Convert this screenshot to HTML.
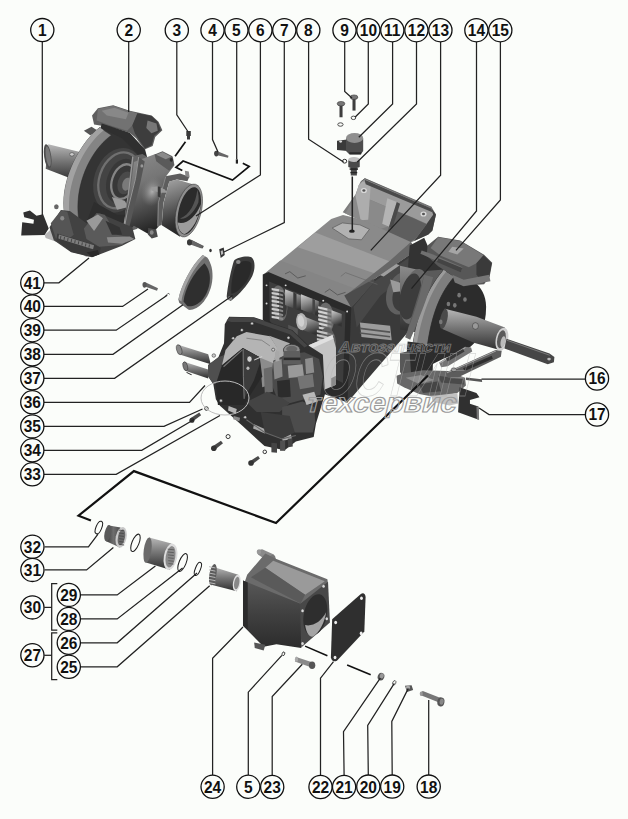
<!DOCTYPE html><html><head><meta charset="utf-8"><title>diagram</title>
<style>html,body{margin:0;padding:0;background:#fbfdfa}body{width:628px;height:819px;overflow:hidden}svg{display:block}text{font-family:"Liberation Sans",sans-serif;font-weight:bold}</style></head><body>
<svg width="628" height="819" viewBox="0 0 628 819">
<rect width="628" height="819" fill="#fbfdfa"/>
<defs>
<linearGradient id="gv" x1="0" y1="0" x2="0" y2="1"><stop offset="0" stop-color="#b8b8b8"/><stop offset="0.45" stop-color="#777"/><stop offset="1" stop-color="#2e2e2e"/></linearGradient>
<linearGradient id="gv2" x1="0" y1="0" x2="0" y2="1"><stop offset="0" stop-color="#8c8c8c"/><stop offset="0.5" stop-color="#5e5e5e"/><stop offset="1" stop-color="#303030"/></linearGradient>
<linearGradient id="gh" x1="0" y1="0" x2="1" y2="0"><stop offset="0" stop-color="#3a3a3a"/><stop offset="0.5" stop-color="#6e6e6e"/><stop offset="1" stop-color="#4a4a4a"/></linearGradient>
<linearGradient id="gd" x1="0" y1="0" x2="1" y2="1"><stop offset="0" stop-color="#a0a0a0"/><stop offset="0.5" stop-color="#6a6a6a"/><stop offset="1" stop-color="#303030"/></linearGradient>
<linearGradient id="gtop" x1="0" y1="0" x2="1" y2="1"><stop offset="0" stop-color="#8d8d8d"/><stop offset="0.5" stop-color="#a2a2a2"/><stop offset="1" stop-color="#7a7a7a"/></linearGradient>
<radialGradient id="gr" cx="0.4" cy="0.4" r="0.7"><stop offset="0" stop-color="#999"/><stop offset="1" stop-color="#333"/></radialGradient>
<linearGradient id="gbody" x1="0" y1="0" x2="0.25" y2="1"><stop offset="0" stop-color="#8c8c8c"/><stop offset="0.4" stop-color="#767676"/><stop offset="0.75" stop-color="#484848"/><stop offset="1" stop-color="#262626"/></linearGradient>
<radialGradient id="ghl" cx="0.5" cy="0.5" r="0.5"><stop offset="0" stop-color="#b4b4b4" stop-opacity="0.95"/><stop offset="1" stop-color="#808080" stop-opacity="0"/></radialGradient>
<linearGradient id="gpipe" x1="0.3" y1="0" x2="0.5" y2="1"><stop offset="0" stop-color="#a0a0a0"/><stop offset="0.35" stop-color="#6e6e6e"/><stop offset="0.75" stop-color="#333"/><stop offset="1" stop-color="#222"/></linearGradient>
<linearGradient id="gface" x1="0" y1="0" x2="0" y2="1"><stop offset="0" stop-color="#585858"/><stop offset="0.5" stop-color="#404040"/><stop offset="1" stop-color="#2c2c2c"/></linearGradient>
<linearGradient id="gshaft" x1="0" y1="0" x2="0.3" y2="1"><stop offset="0" stop-color="#cfcfcf"/><stop offset="0.45" stop-color="#8c8c8c"/><stop offset="1" stop-color="#333"/></linearGradient>
</defs>
<g transform="translate(10,95) scale(0.25478)"><polygon points="150,193 275,224 265,338 140,289" fill="url(#gv)" /><ellipse cx="148" cy="241" rx="14" ry="48" fill="#4e4e4e" transform="rotate(-8 148 241)" /><ellipse cx="150" cy="241" rx="9" ry="40" fill="#777" transform="rotate(-8 150 241)" /><ellipse cx="243" cy="233" rx="9" ry="7" fill="#ccc" stroke="#333" stroke-width="2"/><polygon points="322,80 345,52 405,40 470,62 556,80 583,105 598,138 570,165 560,200 528,214 495,170 470,148 400,128 330,116" fill="#5e5e5e" /><polygon points="345,55 405,42 470,64 500,72 480,120 460,140 400,122 340,100" fill="#727272" /><polygon points="360,62 410,50 465,70 455,95 380,80" fill="#888" /><polygon points="500,72 556,82 580,106 592,138 566,160 556,196 530,210 505,175 490,150 480,120" fill="#3d3d3d" /><polygon points="540,100 575,112 580,140 555,150 535,130" fill="#777" /><polygon points="290,140 320,125 345,140 315,158" fill="#555" /><polygon points="360,112 470,148 530,214 540,250 480,250 400,210 350,150" fill="#2f2f2f" /><path d="M352,128 C300,170 215,300 215,420 C215,480 225,520 245,565 L330,565 L470,470 L520,250 L440,170 Z" fill="#343434" /><path d="M352,128 C292,172 211,300 211,424 C211,480 222,525 243,565 L292,565 C272,520 264,470 267,420 C274,300 338,200 398,158 Z" fill="#848484" stroke="#2a2a2a" stroke-width="2"/><path d="M352,128 C292,172 211,300 211,424 C211,480 222,525 243,565 L256,565 C238,520 230,470 232,422 C236,310 300,190 368,138 Z" fill="#a2a2a2" /><ellipse cx="425" cy="335" rx="95" ry="130" fill="#444" transform="rotate(18 425 335)" /><ellipse cx="430" cy="335" rx="80" ry="112" fill="none" transform="rotate(18 430 335)" stroke="#707070" stroke-width="9"/><ellipse cx="440" cy="338" rx="60" ry="90" fill="#383838" transform="rotate(18 440 338)" /><ellipse cx="446" cy="340" rx="46" ry="70" fill="none" transform="rotate(18 446 340)" stroke="#858585" stroke-width="9"/><ellipse cx="453" cy="345" rx="30" ry="46" fill="#4a4a4a" transform="rotate(18 453 345)" /><ellipse cx="458" cy="350" rx="17" ry="26" fill="#7a7a7a" transform="rotate(18 458 350)" /><polygon points="330,420 420,470 470,470 440,545 330,565 300,500" fill="#2e2e2e" /><polygon points="400,400 450,415 465,440 420,450" fill="#9a9a9a" /><polygon points="480,240 520,232 562,258 500,525 440,545 452,470" fill="#646464" /><polyline points="482,242 455,470 442,543" fill="none" stroke="#9a9a9a" stroke-width="5" /></g><g transform="translate(110,150) scale(0.15924)"><polygon points="150,75 285,25 395,45 405,95 352,165 310,330 305,480 255,535 150,475 105,525 95,400 135,200" fill="url(#gbody)" /><ellipse cx="265" cy="260" rx="70" ry="95" fill="url(#ghl)" transform="rotate(15 265 260)" /><polygon points="280,28 330,8 392,40 402,92 372,130 330,100 290,70" fill="#5a5a5a" /><polygon points="290,30 330,12 385,42 350,58" fill="#8a8a8a" /><ellipse cx="385" cy="62" rx="10" ry="12" fill="#2a2a2a" /><polygon points="178,42 218,72 192,200 142,400 112,525 84,512 108,380 158,180" fill="#565656" /><polyline points="180,44 160,180 110,380 86,512" fill="none" stroke="#a5a5a5" stroke-width="5" /><ellipse cx="200" cy="100" rx="9" ry="10" fill="#999" /><polygon points="348,165 440,148 498,168 486,196 420,185 372,200 335,335 325,470 298,482 300,330" fill="#5d5d5d" /><polyline points="350,167 304,330 300,480" fill="none" stroke="#a0a0a0" stroke-width="4" /><polygon points="470,130 495,135 500,172 474,165" fill="#8a8a8a" /><polygon points="258,235 300,228 345,248 358,268 318,268 262,255" fill="#9a9a9a" /><polygon points="300,228 318,232 318,300 300,292" fill="#3a3a3a" /><path d="M372,198 L420,185 L520,215 C470,260 420,420 440,545 L325,472 L336,335 Z" fill="url(#gpipe)" /><ellipse cx="495" cy="380" rx="78" ry="170" fill="#8f8f8f" transform="rotate(14 495 380)" stroke="#333" stroke-width="3"/><ellipse cx="498" cy="382" rx="66" ry="152" fill="#2b2b2b" transform="rotate(14 498 382)" /><path d="M425,455 C430,500 445,525 470,528 C520,500 560,430 570,340 C540,420 480,470 425,455 Z" fill="#9c9c9c" /><path d="M440,430 C470,440 520,410 555,330 C560,300 555,270 548,250 C540,330 500,410 440,430 Z" fill="#555" /><polygon points="240,490 290,500 300,545 262,555 238,530" fill="#4a4a4a" /><ellipse cx="262" cy="518" rx="12" ry="14" fill="#888" /></g><g transform="translate(10,180) scale(0.25478)"><polygon points="52,128 78,120 104,140 130,134 152,190 136,216 44,218 48,166 92,172 94,156 56,146" fill="#303030" /><polygon points="136,216 160,194 240,236 330,292 300,302 236,262 140,228" fill="#b5b5b5" /><polygon points="155,185 200,118 235,122 300,170 350,130 480,185 492,232 440,258 356,290 322,303 240,284 172,236" fill="#424242" /><polygon points="160,170 200,120 225,125 250,215 230,232 180,230" fill="#555" /><ellipse cx="182" cy="105" rx="9" ry="10" fill="#666" /><ellipse cx="205" cy="150" rx="8" ry="9" fill="#8a8a8a" /><polygon points="290,190 340,130 372,136 420,215 470,225 440,255 350,262 300,232" fill="#5a5a5a" /><polygon points="300,160 345,135 365,150 330,200" fill="#999" /><polygon points="375,160 430,185 440,215 400,215" fill="#333" /><polygon points="380,225 470,222 488,232 440,250 385,245" fill="#8a8a8a" /><polygon points="186,210 330,254 356,266 352,290 322,302 240,282 182,236" fill="#3a3a3a" /><polygon points="192,214 330,256 326,272 190,230" fill="#7d7d7d" /><polyline points="200,219 198,231" fill="none" stroke="#333" stroke-width="3" /><polyline points="214,223.3 212,235.3" fill="none" stroke="#333" stroke-width="3" /><polyline points="228,227.6 226,239.6" fill="none" stroke="#333" stroke-width="3" /><polyline points="242,231.9 240,243.9" fill="none" stroke="#333" stroke-width="3" /><polyline points="256,236.2 254,248.2" fill="none" stroke="#333" stroke-width="3" /><polyline points="270,240.5 268,252.5" fill="none" stroke="#333" stroke-width="3" /><polyline points="284,244.8 282,256.8" fill="none" stroke="#333" stroke-width="3" /><polyline points="298,249.1 296,261.1" fill="none" stroke="#333" stroke-width="3" /><polyline points="312,253.4 310,265.4" fill="none" stroke="#333" stroke-width="3" /><polygon points="300,285 345,275 350,292 322,302" fill="#2a2a2a" /></g><g transform="translate(330,160) scale(0.25478)"><polygon points="50,205 100,135 118,88 136,72 400,186 416,214 402,275 386,292 300,332 200,272 120,236" fill="#7d7d7d" /><polygon points="112,100 136,76 398,190 405,215 380,250 300,215 250,195 120,140" fill="#9b9b9b" /><polygon points="398,190 416,214 402,278 386,292 330,318 380,250 405,215" fill="#3f3f3f" /><polygon points="120,140 250,195 225,262 200,270 120,236 60,210 100,140" fill="#8a8a8a" /><polygon points="255,198 320,225 380,252 335,310 300,330 225,285 235,250" fill="#5e5e5e" /><polygon points="112,100 128,84 160,98 150,235 120,236 100,140" fill="#adadad" /><polygon points="136,78 398,190 402,205 140,95" fill="#4a4a4a" /><polygon points="225,150 262,165 232,262 205,250" fill="#b4b4b4" /><polygon points="262,165 275,172 245,268 232,262" fill="#4a4a4a" /><ellipse cx="133" cy="120" rx="12" ry="10" fill="#d8d8d8" /><ellipse cx="133" cy="120" rx="6" ry="5" fill="#555" /><ellipse cx="367" cy="212" rx="12" ry="10" fill="#d8d8d8" /><ellipse cx="367" cy="212" rx="6" ry="5" fill="#555" /><polyline points="120,86 137,73 400,186" fill="none" stroke="#555" stroke-width="3" /></g><g transform="translate(250,200) scale(0.31847)"><polygon points="315,338 390,248 520,158 565,200 570,330 470,445 306,636 298,634" fill="#3a3a3a" /><polygon points="325,335 392,255 515,170 500,230 410,300 335,400" fill="#474747" /><ellipse cx="478" cy="292" rx="48" ry="70" fill="#606060" transform="rotate(20 478 292)" /><ellipse cx="486" cy="296" rx="36" ry="56" fill="#3c3c3c" transform="rotate(20 486 296)" /><polygon points="440,250 480,262 490,285 450,290" fill="#9a9a9a" /><polygon points="345,385 440,395 445,440 350,430" fill="#9c9c9c" /><polygon points="345,400 440,412 440,418 345,406" fill="#555" /><polygon points="345,415 440,427 440,432 345,420" fill="#555" /><polygon points="45,232 255,60 292,47 345,60 505,132 522,158 388,250 316,338" fill="#8a8a8a" /><polygon points="150,148 205,102 470,205 420,240" fill="#9e9e9e" /><polygon points="45,232 95,190 360,290 316,338" fill="#858585" /><polygon points="300,300 388,250 522,158 505,132 440,190" fill="#676767" /><polygon points="296,300 388,248 392,256 318,338" fill="#4c4c4c" /><polyline points="110,232 125,225 150,245 175,238" fill="none" stroke="#444" stroke-width="2" /><polyline points="235,290 250,280 275,298 300,290" fill="none" stroke="#444" stroke-width="2" /><polyline points="285,240 300,228 400,265" fill="none" stroke="#666" stroke-width="2" /><polygon points="258,88 290,72 345,78 375,92 350,125 310,122" fill="#b2b2b2" stroke="#555" stroke-width="2"/><ellipse cx="320" cy="98" rx="9" ry="5" fill="#222" /><polygon points="40,234 58,226 318,336 306,636 224,606 150,560 40,375" fill="#2a2a2a" /><polygon points="60,256 300,352 292,575 200,528 62,380" fill="#3d3d3d" /><ellipse cx="93" cy="324" rx="24" ry="56" fill="#6a6a6a" transform="rotate(-6 93 324)" /><ellipse cx="100" cy="326" rx="15" ry="42" fill="#3a3a3a" transform="rotate(-6 100 326)" /><polygon points="68,276 92,280 92,287 68,283" fill="#cdcdcd" /><polygon points="92,280 104,284 104,290 92,287" fill="#8a8a8a" /><polygon points="68,288.5 92,292.5 92,299.5 68,295.5" fill="#cdcdcd" /><polygon points="92,292.5 104,296.5 104,302.5 92,299.5" fill="#8a8a8a" /><polygon points="68,301 92,305 92,312 68,308" fill="#cdcdcd" /><polygon points="92,305 104,309 104,315 92,312" fill="#8a8a8a" /><polygon points="68,313.5 92,317.5 92,324.5 68,320.5" fill="#cdcdcd" /><polygon points="92,317.5 104,321.5 104,327.5 92,324.5" fill="#8a8a8a" /><polygon points="68,326 92,330 92,337 68,333" fill="#cdcdcd" /><polygon points="92,330 104,334 104,340 92,337" fill="#8a8a8a" /><polygon points="68,338.5 92,342.5 92,349.5 68,345.5" fill="#cdcdcd" /><polygon points="92,342.5 104,346.5 104,352.5 92,349.5" fill="#8a8a8a" /><polygon points="68,351 92,355 92,362 68,358" fill="#cdcdcd" /><polygon points="92,355 104,359 104,365 92,362" fill="#8a8a8a" /><polygon points="68,363.5 92,367.5 92,374.5 68,370.5" fill="#cdcdcd" /><polygon points="92,367.5 104,371.5 104,377.5 92,374.5" fill="#8a8a8a" /><polygon points="110,280 166,302 166,352 110,330" fill="url(#gshaft)" /><polygon points="136,290 146,294 146,344 136,340" fill="#3a3a3a" /><polygon points="160,296 216,318 216,366 160,344" fill="url(#gshaft)" /><polygon points="196,310 204,313 204,361 196,358" fill="#444" /><ellipse cx="240" cy="368" rx="24" ry="46" fill="#6a6a6a" transform="rotate(-6 240 368)" /><polygon points="214,334 244,341 244,348 214,341" fill="#d2d2d2" /><polygon points="244,341 256,345 256,351 244,348" fill="#8a8a8a" /><polygon points="214,346.5 244,353.5 244,360.5 214,353.5" fill="#d2d2d2" /><polygon points="244,353.5 256,357.5 256,363.5 244,360.5" fill="#8a8a8a" /><polygon points="214,359 244,366 244,373 214,366" fill="#d2d2d2" /><polygon points="244,366 256,370 256,376 244,373" fill="#8a8a8a" /><polygon points="214,371.5 244,378.5 244,385.5 214,378.5" fill="#d2d2d2" /><polygon points="244,378.5 256,382.5 256,388.5 244,385.5" fill="#8a8a8a" /><polygon points="214,384 244,391 244,398 214,391" fill="#d2d2d2" /><polygon points="244,391 256,395 256,401 244,398" fill="#8a8a8a" /><polygon points="214,396.5 244,403.5 244,410.5 214,403.5" fill="#d2d2d2" /><polygon points="244,403.5 256,407.5 256,413.5 244,410.5" fill="#8a8a8a" /><polygon points="256,346 288,358 288,398 256,386" fill="url(#gshaft)" /><polygon points="150,358 216,384 216,428 150,402" fill="url(#gshaft)" /><ellipse cx="162" cy="382" rx="17" ry="27" fill="#b5b5b5" transform="rotate(-8 162 382)" /><ellipse cx="160" cy="380" rx="10" ry="18" fill="#d0d0d0" transform="rotate(-8 160 380)" /><ellipse cx="244" cy="446" rx="26" ry="46" fill="#5e5e5e" transform="rotate(-6 244 446)" /><polygon points="210,408 244,416 244,423 210,415" fill="#c4c4c4" /><polygon points="244,416 264,422 264,428 244,423" fill="#7c7c7c" /><polygon points="210,420.5 244,428.5 244,435.5 210,427.5" fill="#c4c4c4" /><polygon points="244,428.5 264,434.5 264,440.5 244,435.5" fill="#7c7c7c" /><polygon points="210,433 244,441 244,448 210,440" fill="#c4c4c4" /><polygon points="244,441 264,447 264,453 244,448" fill="#7c7c7c" /><polygon points="210,445.5 244,453.5 244,460.5 210,452.5" fill="#c4c4c4" /><polygon points="244,453.5 264,459.5 264,465.5 244,460.5" fill="#7c7c7c" /><polygon points="210,458 244,466 244,473 210,465" fill="#c4c4c4" /><polygon points="244,466 264,472 264,478 244,473" fill="#7c7c7c" /><polygon points="210,470.5 244,478.5 244,485.5 210,477.5" fill="#c4c4c4" /><polygon points="244,478.5 264,484.5 264,490.5 244,485.5" fill="#7c7c7c" /><polygon points="120,392 150,404 150,440 120,428" fill="#555" /><ellipse cx="52" cy="268" rx="3" ry="3" fill="#ddd" /><ellipse cx="52" cy="325" rx="3" ry="3" fill="#ddd" /><ellipse cx="112" cy="268" rx="3" ry="3" fill="#ddd" /><ellipse cx="230" cy="316" rx="3" ry="3" fill="#ddd" /><ellipse cx="305" cy="350" rx="3" ry="3" fill="#ddd" /><polygon points="184,456 259,424 270,464 270,580 224,600 184,545" fill="#c4c4c4" /><polygon points="184,456 259,424 262,436 190,468" fill="#e0e0e0" /><polygon points="255,560 270,552 270,580 255,588" fill="#8a8a8a" /></g><g transform="translate(290,80) scale(0.19109)"><polygon points="322,505 330,505 330,790 322,790" fill="#222" /><polygon points="305,420 365,420 365,455 350,460 350,500 318,500 318,460 305,455" fill="#4a4a4a" /><ellipse cx="335" cy="416" rx="30" ry="13" fill="#c0c0c0" /><polygon points="312,462 356,462 356,470 312,470" fill="#222" /><polygon points="316,482 352,482 352,488 316,488" fill="#222" /><ellipse cx="286" cy="425" rx="11" ry="10" fill="none" stroke="#222" stroke-width="5"/><polygon points="246,318 300,312 300,372 246,366" fill="#3a3a3a" /><ellipse cx="265" cy="322" rx="8" ry="6" fill="#ddd" /><polygon points="293,305 383,305 383,372 370,388 310,388 293,372" fill="#4d4d4d" /><ellipse cx="338" cy="304" rx="45" ry="26" fill="#8f8f8f" /><polygon points="310,378 375,378 372,390 312,390" fill="#2a2a2a" /><polygon points="259,130 275,130 275,195 259,195" fill="#3e3e3e" /><ellipse cx="267" cy="124" rx="20" ry="12" fill="#777" stroke="#333" stroke-width="3"/><polygon points="327,96 343,96 343,160 327,160" fill="#3e3e3e" /><ellipse cx="335" cy="90" rx="20" ry="12" fill="#777" stroke="#333" stroke-width="3"/><ellipse cx="264" cy="233" rx="14" ry="9" fill="none" stroke="#444" stroke-width="5"/><ellipse cx="332" cy="198" rx="12" ry="9" fill="none" stroke="#444" stroke-width="5"/></g><g transform="translate(400,220) scale(0.25478)"><polygon points="38,100 95,70 116,118 170,168 205,215 120,235 30,205" fill="#333" /><polygon points="0,180 70,195 120,230 110,400 60,440 0,430" fill="url(#gv2)" /><ellipse cx="55" cy="300" rx="50" ry="110" fill="#686868" transform="rotate(12 55 300)" /><ellipse cx="40" cy="300" rx="40" ry="92" fill="#3c3c3c" transform="rotate(12 40 300)" /><path d="M190,200 C260,215 338,250 338,340 C338,420 310,480 255,512 L170,545 L60,600 C60,470 100,300 190,200 Z" fill="#2c2c2c" /><polygon points="100,200 176,194 150,260 100,320 60,440 30,430" fill="#5a5a5a" /><path d="M172,195 L214,222 C152,292 108,400 98,600 L40,600 C50,400 100,280 172,195 Z" fill="#7e7e7e" stroke="#2a2a2a" stroke-width="3"/><path d="M172,195 L182,201 C117,280 67,400 54,600 L40,600 C50,400 100,280 172,195 Z" fill="#9c9c9c" /><path d="M95,215 L130,225 C110,300 70,400 40,470 L20,460 C50,380 80,300 95,215 Z" fill="#6a6a6a" /><polygon points="108,100 150,66 236,80 330,136 362,168 352,222 330,252 246,258 205,218 150,182 105,140" fill="#575757" /><polygon points="150,68 236,82 328,138 300,170 270,185 160,140 120,110" fill="#787878" /><polygon points="300,170 328,138 360,170 350,222 330,248 300,215" fill="#3a3a3a" /><polygon points="205,105 250,112 225,135 190,125" fill="#a5a5a5" /><polygon points="205,215 250,235 350,215 355,240 250,260 215,245" fill="#777" /><polygon points="85,120 130,135 245,185 240,200 120,150 80,132" fill="#707070" /><polygon points="150,150 245,188 238,205 145,165" fill="#444" /><polygon points="176,348 300,380 412,422 398,512 290,482 166,428" fill="url(#gv)" /><ellipse cx="400" cy="468" rx="24" ry="46" fill="#cfcfcf" transform="rotate(12 400 468)" /><ellipse cx="398" cy="468" rx="16" ry="36" fill="#5a5a5a" transform="rotate(12 398 468)" /><ellipse cx="404" cy="478" rx="9" ry="22" fill="#bbb" transform="rotate(12 404 478)" /><ellipse cx="296" cy="416" rx="12" ry="13" fill="#999" stroke="#333" stroke-width="2"/><ellipse cx="172" cy="388" rx="14" ry="40" fill="#4a4a4a" transform="rotate(12 172 388)" /><ellipse cx="232" cy="295" rx="7" ry="9" fill="#777" /><ellipse cx="255" cy="312" rx="7" ry="9" fill="#777" /><ellipse cx="190" cy="330" rx="7" ry="9" fill="#777" /><ellipse cx="160" cy="400" rx="7" ry="9" fill="#777" /><ellipse cx="215" cy="335" rx="7" ry="9" fill="#777" /><polygon points="418,466 587,524 606,538 604,558 580,566 410,504" fill="#464646" /><polyline points="420,472 588,531" fill="none" stroke="#8a8a8a" stroke-width="3" /><ellipse cx="585" cy="546" rx="7" ry="5" fill="#bbb" /></g><g transform="translate(400,330) scale(0.19109)"><polygon points="40,60 120,70 175,110 170,235 120,300 60,260 30,180" fill="#2c2c2c" /><polygon points="0,120 50,110 60,260 20,250 0,220" fill="#585858" /><polygon points="-18,240 15,228 120,210 250,215 340,250 345,290 300,330 190,352 100,335 20,300 -15,280" fill="#686868" /><polygon points="30,250 110,235 180,262 100,282" fill="#8c8c8c" /><polygon points="100,285 200,268 215,320 120,330" fill="#454545" /><polygon points="200,240 330,258 335,285 215,275" fill="#4a4a4a" /><polygon points="205,170 340,88 372,92 378,112 250,190 215,195" fill="#747474" /><polyline points="210,172 342,92" fill="none" stroke="#b5b5b5" stroke-width="5" /><polygon points="240,150 330,100 338,112 250,165" fill="#3a3a3a" /><polygon points="240,222 500,105 532,110 528,140 300,250 250,250" fill="#5c5c5c" /><polyline points="246,224 502,110" fill="none" stroke="#a8a8a8" stroke-width="5" /><polygon points="330,200 480,135 486,150 338,215" fill="#2e2e2e" /><ellipse cx="282" cy="208" rx="14" ry="10" fill="#999" stroke="#333" stroke-width="3"/><polygon points="345,248 428,258 430,272 345,262" fill="#555" /><polygon points="165,345 300,330 305,385 260,395 170,375" fill="#c2c2c2" /><polygon points="312,300 400,330 416,352 366,366 366,386 410,400 412,470 304,430" fill="#303030" /><polygon points="400,400 412,402 414,470 402,466" fill="#777" /></g><g transform="translate(170,300) scale(0.25478)"><polygon points="32,176 150,213 160,252 38,214" fill="url(#gv)" /><ellipse cx="36" cy="195" rx="10" ry="20" fill="#8a8a8a" transform="rotate(-15 36 195)" stroke="#333" stroke-width="2"/><polygon points="58,243 150,273 150,308 60,278" fill="url(#gv)" /><ellipse cx="60" cy="260" rx="9" ry="18" fill="#777" transform="rotate(-15 60 260)" stroke="#333" stroke-width="2"/><polyline points="65,284 85,294" fill="none" stroke="#222" stroke-width="4" /><path d="M215,95 L232,66 L330,68 L480,118 L545,180 L600,215 L608,371 L573,485 L564,538 L494,555 L450,590 L371,573 L284,494 L196,415 L180,390 L170,330 L150,300 L150,255 L190,225 L212,170 Z" fill="#303030" /><polygon points="222,80 235,68 330,70 478,120 540,180 528,186 470,134 330,86 240,86" fill="#454545" /><polygon points="150,255 190,225 215,215 232,255 205,278 180,330 170,330 150,300" fill="#4f4f4f" /><ellipse cx="172" cy="218" rx="7" ry="7" fill="#ccc" stroke="#222" stroke-width="2"/><polygon points="262,142 300,126 392,142 422,188 406,248 362,278 352,225 286,188 204,256 218,196" fill="#b4b4b4" /><polygon points="390,140 470,170 460,214 414,236 404,250 420,188" fill="#adadad" /><polygon points="352,226 406,248 402,330 362,342" fill="#8c8c8c" /><polyline points="300,150 360,158 392,180" fill="none" stroke="#777" stroke-width="3" /><polygon points="204,256 286,188 352,225 362,300 290,412 188,412 180,330" fill="#282828" /><polygon points="286,190 352,225 352,250 330,315 290,390 286,300" fill="#3c3c3c" /><polyline points="287,192 288,300 291,388" fill="none" stroke="#8a8a8a" stroke-width="3" /><ellipse cx="312" cy="232" rx="10" ry="12" fill="#d0d0d0" stroke="#222" stroke-width="2"/><ellipse cx="306" cy="268" rx="6" ry="7" fill="#bdbdbd" /><polyline points="210,262 284,196" fill="none" stroke="#777" stroke-width="4" /><polyline points="330,236 362,222" fill="none" stroke="#ccc" stroke-width="4" /><polygon points="405,238 455,215 528,205 585,232 600,300 590,372 520,392 470,405 420,385 395,322" fill="#4b4b4b" /><ellipse cx="478" cy="196" rx="33" ry="22" fill="#8a8a8a" stroke="#333" stroke-width="3"/><ellipse cx="478" cy="192" rx="22" ry="12" fill="#666" /><polygon points="446,200 510,200 514,252 444,252" fill="#5e5e5e" /><polygon points="446,226 512,226 512,236 446,236" fill="#2a2a2a" /><polygon points="405,242 438,232 442,300 410,312" fill="#8a8a8a" /><polygon points="412,204 428,200 430,238 414,242" fill="#a8a8a8" /><polygon points="462,258 520,252 526,300 466,306" fill="#9a9a9a" /><polygon points="500,300 560,290 566,340 510,350" fill="#747474" /><polygon points="530,232 560,226 566,285 534,290" fill="#8d8d8d" /><polygon points="368,270 400,262 404,360 372,366" fill="#6a6a6a" /><polygon points="420,318 470,312 474,380 424,384" fill="#2c2c2c" /><polygon points="300,400 380,360 440,385 470,405 430,440 340,440" fill="#444" /><polygon points="230,416 262,428 258,446 228,434" fill="#b5b5b5" /><polygon points="250,455 275,462 272,476 248,468" fill="#8a8a8a" /><polygon points="440,420 520,398 566,420 570,480 560,520 490,520 440,480" fill="#4c4c4c" /><polygon points="330,488 376,508 372,524 326,504" fill="#a8a8a8" /><polygon points="436,528 474,522 478,546 442,552" fill="#b0b0b0" /><polygon points="520,372 566,360 580,398 536,412" fill="#b8b8b8" /><polygon points="356,440 470,455 490,520 440,545 372,520" fill="#3c3c3c" /><polyline points="300,470 372,520 440,545 494,532" fill="none" stroke="#666" stroke-width="4" /><polygon points="398,560 420,562 420,600 398,598" fill="#454545" /><polygon points="432,552 452,552 452,592 432,592" fill="#505050" /><polygon points="462,545 480,543 482,575 464,578" fill="#454545" /><ellipse cx="248" cy="150" rx="6" ry="6" fill="#ccc" stroke="#222" stroke-width="2"/><ellipse cx="282" cy="118" rx="6" ry="6" fill="#ccc" stroke="#222" stroke-width="2"/><ellipse cx="322" cy="92" rx="6" ry="6" fill="#ccc" stroke="#222" stroke-width="2"/><ellipse cx="405" cy="195" rx="6" ry="6" fill="#ccc" stroke="#222" stroke-width="2"/><ellipse cx="295" cy="460" rx="6" ry="6" fill="#ccc" stroke="#222" stroke-width="2"/><ellipse cx="465" cy="148" rx="6" ry="6" fill="#ccc" stroke="#222" stroke-width="2"/><ellipse cx="200" cy="395" rx="6" ry="6" fill="#ccc" stroke="#222" stroke-width="2"/></g><g transform="translate(130,225) scale(0.25478)"><path d="M285,118 L303,128 C335,170 330,250 290,300 C270,325 245,335 230,333 L193,305 L190,292 C200,240 240,160 285,118 Z" fill="#6f6f6f" /><path d="M292,150 C325,185 318,250 285,292 C265,315 240,322 225,318 L210,300 C215,250 250,185 292,150 Z" fill="#2f2f2f" /><path d="M285,118 L296,124 C250,165 210,245 202,300 L190,292 C200,240 240,160 285,118 Z" fill="#a5a5a5" /><path d="M408,140 C420,128 460,118 478,128 C492,140 492,175 480,200 C460,240 425,275 405,290 L395,298 L380,285 C380,260 395,180 408,140 Z" fill="#3a3a3a" /><path d="M415,160 C430,140 465,135 475,150 C482,170 470,205 450,232 C430,256 410,270 398,270 C395,240 402,190 415,160 Z" fill="#2a2a2a" /><ellipse cx="425" cy="145" rx="9" ry="8" fill="#888" /><ellipse cx="392" cy="288" rx="9" ry="8" fill="#888" /><polygon points="350,95 368,88 372,118 356,130" fill="#333" /><polygon points="356,102 364,99 366,114 358,118" fill="#bbb" /><polygon points="228,62 240,58 290,82 285,92 232,72" fill="#555" /><ellipse cx="233" cy="66" rx="8" ry="10" fill="#3a3a3a" /><ellipse cx="316" cy="100" rx="5" ry="7" fill="#333" /><polygon points="52,230 62,226 110,248 106,258 55,240" fill="#666" /><ellipse cx="57" cy="235" rx="8" ry="11" fill="#555" /><polyline points="138,280 150,268 156,272" fill="none" stroke="#333" stroke-width="3" /></g><g transform="translate(170,380) scale(0.25478)"><ellipse cx="143" cy="112" rx="7" ry="7" fill="none" stroke="#222" stroke-width="3.5"/><polygon points="80,150 115,128 122,138 90,162" fill="#4a4a4a" /><ellipse cx="86" cy="158" rx="10" ry="10" fill="#333" /><ellipse cx="228" cy="222" rx="8" ry="8" fill="none" stroke="#222" stroke-width="3.5"/><polygon points="165,262 200,238 208,248 176,274" fill="#4a4a4a" /><ellipse cx="172" cy="268" rx="11" ry="11" fill="#333" /><ellipse cx="372" cy="282" rx="7" ry="7" fill="none" stroke="#222" stroke-width="3.5"/><polygon points="312,320 346,298 353,308 322,332" fill="#4a4a4a" /><ellipse cx="318" cy="326" rx="11" ry="11" fill="#333" /></g><g transform="translate(60,460) scale(0.31847)"><ellipse cx="122" cy="212" rx="9" ry="21" fill="none" transform="rotate(22 122 212)" stroke="#1c1c1c" stroke-width="3.2"/><polygon points="150,205 190,212 188,275 145,255" fill="url(#gh)" /><ellipse cx="192" cy="243" rx="17" ry="33" fill="#c9c9c9" transform="rotate(12 192 243)" /><ellipse cx="193" cy="243" rx="11" ry="25" fill="#6a6a6a" transform="rotate(12 193 243)" /><ellipse cx="150" cy="230" rx="10" ry="26" fill="#5a5a5a" transform="rotate(12 150 230)" /><polyline points="184,220 200,222" fill="none" stroke="#444" stroke-width="2.5" /><polyline points="184.5,229 200.3,231" fill="none" stroke="#444" stroke-width="2.5" /><polyline points="185,238 200.6,240" fill="none" stroke="#444" stroke-width="2.5" /><polyline points="185.5,247 200.9,249" fill="none" stroke="#444" stroke-width="2.5" /><polyline points="186,256 201.2,258" fill="none" stroke="#444" stroke-width="2.5" /><polyline points="186.5,265 201.5,267" fill="none" stroke="#444" stroke-width="2.5" /><ellipse cx="237" cy="260" rx="11" ry="29" fill="none" transform="rotate(22 237 260)" stroke="#1c1c1c" stroke-width="3.2"/><polygon points="280,243 350,262 345,345 270,322" fill="url(#gv)" /><ellipse cx="275" cy="283" rx="12" ry="40" fill="#6a6a6a" transform="rotate(8 275 283)" /><ellipse cx="347" cy="304" rx="21" ry="42" fill="#dcdcdc" transform="rotate(10 347 304)" /><ellipse cx="347" cy="304" rx="15" ry="34" fill="#8a8a8a" transform="rotate(10 347 304)" /><polyline points="338,280 358,282" fill="none" stroke="#555" stroke-width="2.5" /><polyline points="338.5,289 357.7,291" fill="none" stroke="#555" stroke-width="2.5" /><polyline points="339,298 357.4,300" fill="none" stroke="#555" stroke-width="2.5" /><polyline points="339.5,307 357.1,309" fill="none" stroke="#555" stroke-width="2.5" /><polyline points="340,316 356.8,318" fill="none" stroke="#555" stroke-width="2.5" /><polyline points="340.5,325 356.5,327" fill="none" stroke="#555" stroke-width="2.5" /><ellipse cx="385" cy="322" rx="11" ry="30" fill="none" transform="rotate(22 385 322)" stroke="#1c1c1c" stroke-width="3.2"/><ellipse cx="433" cy="342" rx="8" ry="22" fill="none" transform="rotate(22 433 342)" stroke="#1c1c1c" stroke-width="3.2"/><polygon points="480,335 560,360 555,412 475,392" fill="url(#gv)" /><ellipse cx="480" cy="360" rx="11" ry="34" fill="#5c5c5c" transform="rotate(10 480 360)" /><polyline points="468,335 488,339" fill="none" stroke="#bbb" stroke-width="3" /><polyline points="468,345 488,349" fill="none" stroke="#bbb" stroke-width="3" /><polyline points="468,355 488,359" fill="none" stroke="#bbb" stroke-width="3" /><polyline points="468,365 488,369" fill="none" stroke="#bbb" stroke-width="3" /><polyline points="468,375 488,379" fill="none" stroke="#bbb" stroke-width="3" /><polyline points="468,385 488,389" fill="none" stroke="#bbb" stroke-width="3" /><ellipse cx="555" cy="386" rx="12" ry="26" fill="#e0e0e0" transform="rotate(10 555 386)" /><ellipse cx="555" cy="386" rx="8" ry="20" fill="#888" transform="rotate(10 555 386)" /></g><g transform="translate(200,520) scale(0.31847)"><polygon points="180,95 195,92 232,108 240,128 222,135 182,108" fill="#8a8a8a" /><ellipse cx="185" cy="100" rx="7" ry="8" fill="#999" /><ellipse cx="228" cy="120" rx="9" ry="10" fill="#777" /><polygon points="148,172 205,105 238,122 400,186 402,200 318,268 140,196" fill="#6b6b6b" /><polygon points="205,150 230,128 392,192 330,235" fill="#9a9a9a" /><polygon points="160,180 205,150 330,235 316,262" fill="#5a5a5a" /><polygon points="135,190 318,264 318,402 240,390 200,398 135,332" fill="url(#gface)" /><polygon points="135,190 150,196 150,345 135,332" fill="#2b2b2b" /><polygon points="170,385 205,392 200,410 172,402" fill="#555" /><polygon points="314,264 402,194 408,322 318,400" fill="#484848" /><ellipse cx="362" cy="298" rx="36" ry="66" fill="#2e2e2e" transform="rotate(12 362 298)" /><path d="M330,330 C335,360 345,368 355,366 C375,355 392,320 396,290 C380,320 355,335 330,330 Z" fill="#a4a4a4" /><ellipse cx="388" cy="208" rx="4" ry="5" fill="#d8d8d8" /><ellipse cx="322" cy="285" rx="4" ry="5" fill="#d8d8d8" /><ellipse cx="322" cy="388" rx="4" ry="5" fill="#d8d8d8" /><ellipse cx="398" cy="310" rx="4" ry="5" fill="#d8d8d8" /><path d="M415,312 L505,232 Q518,226 520,242 L516,350 L430,442 Q414,448 411,432 Z" fill="#2f2f2f" /><ellipse cx="507" cy="246" rx="4.5" ry="5.5" fill="#eee" /><ellipse cx="426" cy="322" rx="4.5" ry="5.5" fill="#eee" /><ellipse cx="506" cy="356" rx="4.5" ry="5.5" fill="#eee" /><ellipse cx="424" cy="432" rx="4.5" ry="5.5" fill="#eee" /><polyline points="330,396 400,426" fill="none" stroke="#111" stroke-width="5" /><polyline points="462,455 536,486" fill="none" stroke="#111" stroke-width="5" /><ellipse cx="262" cy="420" rx="4" ry="6" fill="none" transform="rotate(20 262 420)" stroke="#222" stroke-width="2.5"/><polygon points="302,430 352,447 348,462 298,444" fill="#8a8a8a" /><ellipse cx="352" cy="456" rx="10" ry="12" fill="#555" /><ellipse cx="303" cy="437" rx="5" ry="8" fill="#aaa" /></g><g transform="translate(300,640) scale(0.25478)"><ellipse cx="318" cy="144" rx="13" ry="15" fill="#555" transform="rotate(20 318 144)" /><ellipse cx="321" cy="141" rx="8" ry="10" fill="#999" transform="rotate(20 321 141)" /><ellipse cx="370" cy="168" rx="6" ry="9" fill="none" transform="rotate(25 370 168)" stroke="#444" stroke-width="3"/><polygon points="412,180 438,178 444,196 420,204" fill="#555" /><ellipse cx="424" cy="186" rx="8" ry="7" fill="#aaa" /><polygon points="474,205 482,200 552,228 548,246 472,216" fill="#777" /><ellipse cx="476" cy="211" rx="6" ry="9" fill="#999" /><ellipse cx="553" cy="243" rx="14" ry="18" fill="#555" transform="rotate(10 553 243)" /><ellipse cx="556" cy="242" rx="8" ry="12" fill="#888" transform="rotate(10 556 242)" /></g><polyline points="182.3,170.5 175.9,167.3 183.1,161 232.5,180.1 249.2,166.5 242.8,163.3" fill="none" stroke="#111" stroke-width="1.7" /><polyline points="185.5,141.8 175.1,156.2" fill="none" stroke="#111" stroke-width="1.7" /><polygon points="186.3,131 190.8,131 190.8,136 190,136 190,139.5 187,139.5 187,136 186.3,136" fill="#3a3a3a" /><polygon points="215,152.5 218,151.5 228.5,155.8 228,157.8 216,155" fill="#666" /><ellipse cx="216.3" cy="153.6" rx="2.2" ry="2.8" fill="#444" /><polygon points="235.8,159.3 238,159.3 238,163.6 235.8,163.6" fill="#222" /><polygon points="188.5,241 191.5,240 202.5,246 201.5,248.5 189,244" fill="#666" /><ellipse cx="189.5" cy="242.5" rx="2.5" ry="3" fill="#3a3a3a" />
<g fill="none" stroke="#222" stroke-width="1.25" stroke-linejoin="miter">
<polyline points="42.3,42.0 42.3,215.0"/>
<polyline points="128.7,42.0 128.7,112.0"/>
<polyline points="176.8,42.0 176.8,114.8 187.9,131.5"/>
<polyline points="212.5,42.0 212.5,139.5 218.0,152.0"/>
<polyline points="236.7,42.0 236.7,159.0"/>
<polyline points="260.4,42.0 260.4,175.0 196.0,216.0"/>
<polyline points="284.3,42.0 284.3,222.5 224.0,252.0"/>
<polyline points="308.6,42.0 308.6,139.2 343.5,162.0"/>
<polyline points="344.7,42.0 344.7,91.5 352.0,98.0"/>
<polyline points="368.3,42.0 368.3,104.0 355.0,117.3"/>
<polyline points="392.6,42.0 392.6,104.0 358.8,137.3"/>
<polyline points="416.5,42.0 416.5,104.0 357.3,162.0"/>
<polyline points="440.6,42.0 440.6,175.3 370.8,250.4"/>
<polyline points="476.5,42.0 476.5,211.0 411.5,288.7"/>
<polyline points="500.4,42.0 500.4,200.0 456.0,250.4"/>
<polyline points="44.0,282.8 58.9,282.8 89.0,258.0"/>
<polyline points="44.0,306.4 122.6,306.4 148.0,289.0"/>
<polyline points="44.0,330.2 116.2,330.2 167.2,295.3"/>
<polyline points="44.0,354.3 113.0,354.3 183.0,304.8"/>
<polyline points="44.0,378.3 114.6,378.3 232.5,295.5"/>
<polyline points="44.0,402.3 189.5,402.3 205.0,385.5"/>
<polyline points="44.0,426.4 164.0,426.4 202.5,409.0"/>
<polyline points="44.0,450.3 141.7,450.3 194.0,419.5"/>
<polyline points="44.0,474.3 116.2,474.3 220.0,415.5"/>
<polyline points="44.6,546.8 88.4,546.8 98.0,534.0"/>
<polyline points="44.6,569.9 86.6,569.9 113.4,547.5"/>
<polyline points="81.0,594.9 117.2,594.9 155.4,565.9"/>
<polyline points="81.0,618.9 117.2,618.9 182.6,568.0"/>
<polyline points="81.0,642.8 117.2,642.8 197.0,573.0"/>
<polyline points="81.0,666.8 117.2,666.8 209.7,585.8"/>
<polyline points="212.6,775.0 212.6,658.3 243.0,627.0"/>
<polyline points="248.3,775.0 248.3,692.2 281.9,655.3"/>
<polyline points="272.2,775.0 272.2,696.6 302.3,664.2"/>
<polyline points="320.5,775.0 320.5,678.2 333.5,661.7"/>
<polyline points="344.1,775.0 343.5,731.7 380.3,678.2"/>
<polyline points="368.3,775.0 367.7,725.4 394.3,683.3"/>
<polyline points="392.2,775.0 391.8,721.5 408.3,688.4"/>
<polyline points="428.7,775.0 428.7,699.9"/>
<polyline points="585.0,379.0 481.5,379.0"/>
<polyline points="585.0,414.6 489.0,414.6 479.0,408.0"/>
<polyline points="57.3,583.7 51.7,583.7 51.7,630.0 57.3,630.0"/>
<polyline points="44.3,607.4 51.7,607.4"/>
<polyline points="57.3,632.9 51.7,632.9 51.7,679.7 57.3,679.7"/>
<polyline points="44.3,655.3 51.7,655.3"/>
</g>
<g fill="none" stroke="#111" stroke-width="2.2">
<polyline points="90.9,520.5 78.5,515.7 133.9,471.1 276.0,523.0 428.0,375.5"/>
</g>
<text transform="translate(305,411.5) skewX(-14)" font-size="27.5" textLength="150" lengthAdjust="spacingAndGlyphs" fill="none" stroke="#9a9a9a" stroke-width="1.1">техсервис</text><text transform="translate(318,396) skewX(-14)" font-size="62" textLength="150" lengthAdjust="spacingAndGlyphs" fill="none" stroke="#b4b4b4" stroke-width="0.9" opacity="0.5">ОСТИН</text><text transform="translate(338,352) skewX(-14)" font-size="15" textLength="112" lengthAdjust="spacingAndGlyphs" fill="none" stroke="#b4b4b4" stroke-width="0.9" opacity="0.5">Автозапчасти</text><ellipse cx="225" cy="398" rx="24" ry="17" fill="none" stroke="#bdbdbd" stroke-width="1"/>
<g fill="#fbfdfa" stroke="#111" stroke-width="1.3">
<circle cx="42.3" cy="30.1" r="11.6"/>
<circle cx="128.7" cy="30.1" r="11.6"/>
<circle cx="176.8" cy="30.2" r="11.6"/>
<circle cx="212.5" cy="30.2" r="11.6"/>
<circle cx="236.4" cy="30.2" r="11.6"/>
<circle cx="260.4" cy="30.2" r="11.6"/>
<circle cx="284.3" cy="30.2" r="11.6"/>
<circle cx="308.3" cy="30.2" r="11.6"/>
<circle cx="344.5" cy="30.2" r="11.6"/>
<circle cx="368.4" cy="30.2" r="11.6"/>
<circle cx="392.3" cy="30.2" r="11.6"/>
<circle cx="416.4" cy="30.2" r="11.6"/>
<circle cx="440.4" cy="30.2" r="11.6"/>
<circle cx="476.4" cy="30.2" r="11.6"/>
<circle cx="500.3" cy="30.2" r="11.6"/>
<circle cx="32.3" cy="282.8" r="11.6"/>
<circle cx="32.3" cy="306.4" r="11.6"/>
<circle cx="32.3" cy="330.2" r="11.6"/>
<circle cx="32.3" cy="354.3" r="11.6"/>
<circle cx="32.3" cy="378.3" r="11.6"/>
<circle cx="32.3" cy="402.3" r="11.6"/>
<circle cx="32.3" cy="426.4" r="11.6"/>
<circle cx="32.3" cy="450.3" r="11.6"/>
<circle cx="32.3" cy="474.3" r="11.6"/>
<circle cx="32.4" cy="546.8" r="11.6"/>
<circle cx="32.4" cy="569.9" r="11.6"/>
<circle cx="32.4" cy="607.4" r="11.6"/>
<circle cx="32.4" cy="655.3" r="11.6"/>
<circle cx="68.8" cy="594.9" r="11.6"/>
<circle cx="68.8" cy="618.9" r="11.6"/>
<circle cx="68.8" cy="642.8" r="11.6"/>
<circle cx="68.8" cy="666.8" r="11.6"/>
<circle cx="212.6" cy="786.8" r="11.6"/>
<circle cx="248.3" cy="786.8" r="11.6"/>
<circle cx="272.2" cy="787.0" r="11.6"/>
<circle cx="320.5" cy="787.0" r="11.6"/>
<circle cx="344.1" cy="787.0" r="11.6"/>
<circle cx="368.3" cy="786.6" r="11.6"/>
<circle cx="392.2" cy="786.6" r="11.6"/>
<circle cx="428.7" cy="786.6" r="11.6"/>
<circle cx="597.0" cy="378.5" r="11.6"/>
<circle cx="597.0" cy="414.5" r="11.6"/>
</g>
<g fill="#111" font-size="16.6" text-anchor="middle">
<text transform="translate(42.3,36.0) scale(0.935,1)">1</text>
<text transform="translate(128.7,36.0) scale(0.935,1)">2</text>
<text transform="translate(176.8,36.1) scale(0.935,1)">3</text>
<text transform="translate(212.5,36.1) scale(0.935,1)">4</text>
<text transform="translate(236.4,36.1) scale(0.935,1)">5</text>
<text transform="translate(260.4,36.1) scale(0.935,1)">6</text>
<text transform="translate(284.3,36.1) scale(0.935,1)">7</text>
<text transform="translate(308.3,36.1) scale(0.935,1)">8</text>
<text transform="translate(344.5,36.1) scale(0.935,1)">9</text>
<text transform="translate(368.4,36.1) scale(0.935,1)">10</text>
<text transform="translate(392.3,36.1) scale(0.935,1)">11</text>
<text transform="translate(416.4,36.1) scale(0.935,1)">12</text>
<text transform="translate(440.4,36.1) scale(0.935,1)">13</text>
<text transform="translate(476.4,36.1) scale(0.935,1)">14</text>
<text transform="translate(500.3,36.1) scale(0.935,1)">15</text>
<text transform="translate(32.3,288.7) scale(0.935,1)">41</text>
<text transform="translate(32.3,312.3) scale(0.935,1)">40</text>
<text transform="translate(32.3,336.1) scale(0.935,1)">39</text>
<text transform="translate(32.3,360.2) scale(0.935,1)">38</text>
<text transform="translate(32.3,384.2) scale(0.935,1)">37</text>
<text transform="translate(32.3,408.2) scale(0.935,1)">36</text>
<text transform="translate(32.3,432.3) scale(0.935,1)">35</text>
<text transform="translate(32.3,456.2) scale(0.935,1)">34</text>
<text transform="translate(32.3,480.2) scale(0.935,1)">33</text>
<text transform="translate(32.4,552.7) scale(0.935,1)">32</text>
<text transform="translate(32.4,575.8) scale(0.935,1)">31</text>
<text transform="translate(32.4,613.3) scale(0.935,1)">30</text>
<text transform="translate(32.4,661.2) scale(0.935,1)">27</text>
<text transform="translate(68.8,600.8) scale(0.935,1)">29</text>
<text transform="translate(68.8,624.8) scale(0.935,1)">28</text>
<text transform="translate(68.8,648.7) scale(0.935,1)">26</text>
<text transform="translate(68.8,672.7) scale(0.935,1)">25</text>
<text transform="translate(212.6,792.7) scale(0.935,1)">24</text>
<text transform="translate(248.3,792.7) scale(0.935,1)">5</text>
<text transform="translate(272.2,792.9) scale(0.935,1)">23</text>
<text transform="translate(320.5,792.9) scale(0.935,1)">22</text>
<text transform="translate(344.1,792.9) scale(0.935,1)">21</text>
<text transform="translate(368.3,792.5) scale(0.935,1)">20</text>
<text transform="translate(392.2,792.5) scale(0.935,1)">19</text>
<text transform="translate(428.7,792.5) scale(0.935,1)">18</text>
<text transform="translate(597.0,384.4) scale(0.935,1)">16</text>
<text transform="translate(597.0,420.4) scale(0.935,1)">17</text>
</g>
</svg></body></html>
